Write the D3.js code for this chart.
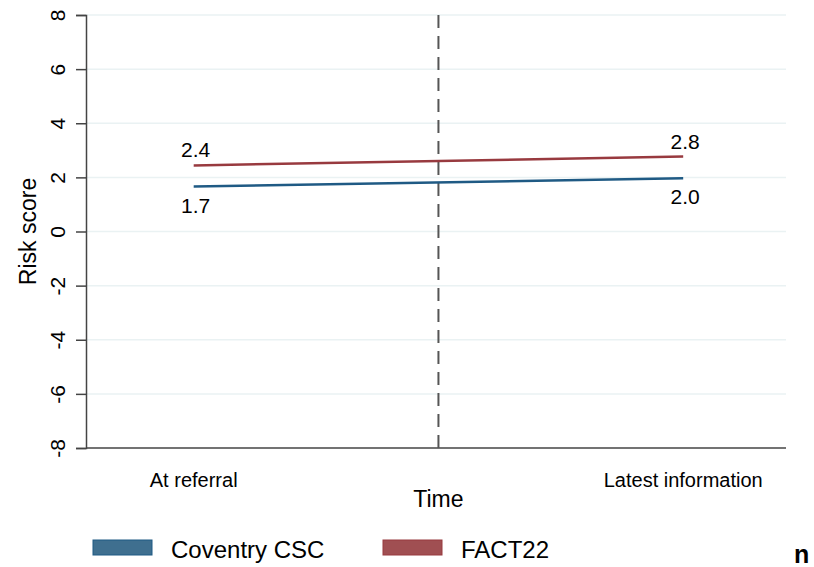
<!DOCTYPE html>
<html lang="en">
<head>
  <meta charset="UTF-8" />
  <title>Risk score over time</title>
  <script src="https://cdn.jsdelivr.net/npm/d3@7"></script>
  <style>
    body { margin: 0; background: #fff; }
    svg { display: block; font-family: "Liberation Sans", Arial, sans-serif; }
  </style>
</head>
<body>
  <div id="chart"></div>
  <script>
    // Values
    const timepoints = ["At referral", "Latest information"];
    const timeX = [0, 1];
    const coventry = [1.66, 1.97];
    const fact22 = [2.44, 2.77];
    const coventryLabels = ["1.7", "2.0"];
    const fact22Labels = ["2.4", "2.8"];
    const yTicks = [-8, -6, -4, -2, 0, 2, 4, 6, 8];
    const seriesNames = ["Coventry CSC", "FACT22"];

    const width = 814, height = 567;
    const svg = d3.select("#chart").append("svg")
      .attr("width", width)
      .attr("height", height);

    const x = d3.scaleLinear().domain([-0.22, 1.21]).range([86, 786]);
    const y = d3.scaleLinear().domain([-8, 8]).range([448, 15]);

    const blue = "#1f5a84", red = "#983a3f";

    // gridlines
    svg.append("g")
      .selectAll("line")
      .data(yTicks.filter(d => d > -8))
      .join("line")
        .attr("x1", x.range()[0]).attr("x2", x.range()[1])
        .attr("y1", d => y(d)).attr("y2", d => y(d))
        .attr("stroke", "#eaf2f3")
        .attr("stroke-width", 1.5);

    // y axis (plain hyphen for negatives, like the original)
    const yAxis = svg.append("g")
      .attr("transform", `translate(${x.range()[0]},0)`)
      .call(d3.axisLeft(y).tickValues(yTicks).tickFormat(d => String(d)).tickSize(10).tickPadding(0));
    yAxis.select(".domain").attr("stroke", "#444").attr("stroke-width", 1.5);
    yAxis.selectAll(".tick line").attr("stroke", "#444").attr("stroke-width", 1.5);
    yAxis.selectAll(".tick text")
      .attr("font-size", 21)
      .attr("fill", "#000")
      .attr("text-anchor", "middle")
      .attr("x", 0).attr("dy", 0)
      .attr("transform", "translate(-21,0) rotate(-90)");

    // x axis line
    svg.append("line")
      .attr("x1", x.range()[0]).attr("x2", x.range()[1])
      .attr("y1", y(-8)).attr("y2", y(-8))
      .attr("stroke", "#444")
      .attr("stroke-width", 1.5);

    // x category labels
    svg.append("g")
      .selectAll("text")
      .data(timepoints)
      .join("text")
        .attr("x", (d, i) => x(timeX[i]))
        .attr("y", 487)
        .attr("text-anchor", "middle")
        .attr("font-size", 20)
        .text(d => d);

    // dashed vertical line at midpoint
    svg.append("line")
      .attr("x1", x(0.5)).attr("x2", x(0.5))
      .attr("y1", y(-8)).attr("y2", y(8))
      .attr("stroke", "#555")
      .attr("stroke-width", 2)
      .attr("stroke-dasharray", "13,8");

    // series lines
    const line = d3.line().x((d, i) => x(timeX[i])).y(d => y(d));
    [[fact22, red], [coventry, blue]].forEach(([vals, col]) => {
      svg.append("path")
        .datum(vals)
        .attr("fill", "none")
        .attr("stroke", col)
        .attr("stroke-width", 2.5)
        .attr("d", line);
    });

    // value labels
    svg.append("g").selectAll("text")
      .data(fact22Labels)
      .join("text")
        .attr("x", (d, i) => x(timeX[i]) + 2)
        .attr("y", (d, i) => y(fact22[i]) - 8)
        .attr("text-anchor", "middle")
        .attr("font-size", 21)
        .text(d => d);
    svg.append("g").selectAll("text")
      .data(coventryLabels)
      .join("text")
        .attr("x", (d, i) => x(timeX[i]) + 2)
        .attr("y", (d, i) => y(coventry[i]) + 26)
        .attr("text-anchor", "middle")
        .attr("font-size", 21)
        .text(d => d);

    // axis titles
    svg.append("text")
      .attr("transform", `translate(36,${y(0)}) rotate(-90)`)
      .attr("text-anchor", "middle")
      .attr("font-size", 23)
      .text("Risk score");
    svg.append("text")
      .attr("x", x(0.5))
      .attr("y", 507)
      .attr("text-anchor", "middle")
      .attr("font-size", 23)
      .text("Time");

    // legend
    const legend = svg.append("g");
    const legendX = [93, 383];
    const swatchFill = ["#3f6f8f", "#a04f52"];
    const swatchStroke = [blue, red];
    seriesNames.forEach((name, i) => {
      legend.append("rect")
        .attr("x", legendX[i]).attr("y", 540)
        .attr("width", 59).attr("height", 15)
        .attr("fill", swatchFill[i])
        .attr("stroke", swatchStroke[i])
        .attr("stroke-width", 1);
      legend.append("text")
        .attr("x", legendX[i] + 78)
        .attr("y", 558)
        .attr("font-size", 24)
        .text(name);
    });

    // note at bottom right corner
    svg.append("text")
      .attr("x", 794)
      .attr("y", 563)
      .attr("font-size", 25)
      .attr("font-weight", "bold")
      .text("n");
  </script>
</body>
</html>
